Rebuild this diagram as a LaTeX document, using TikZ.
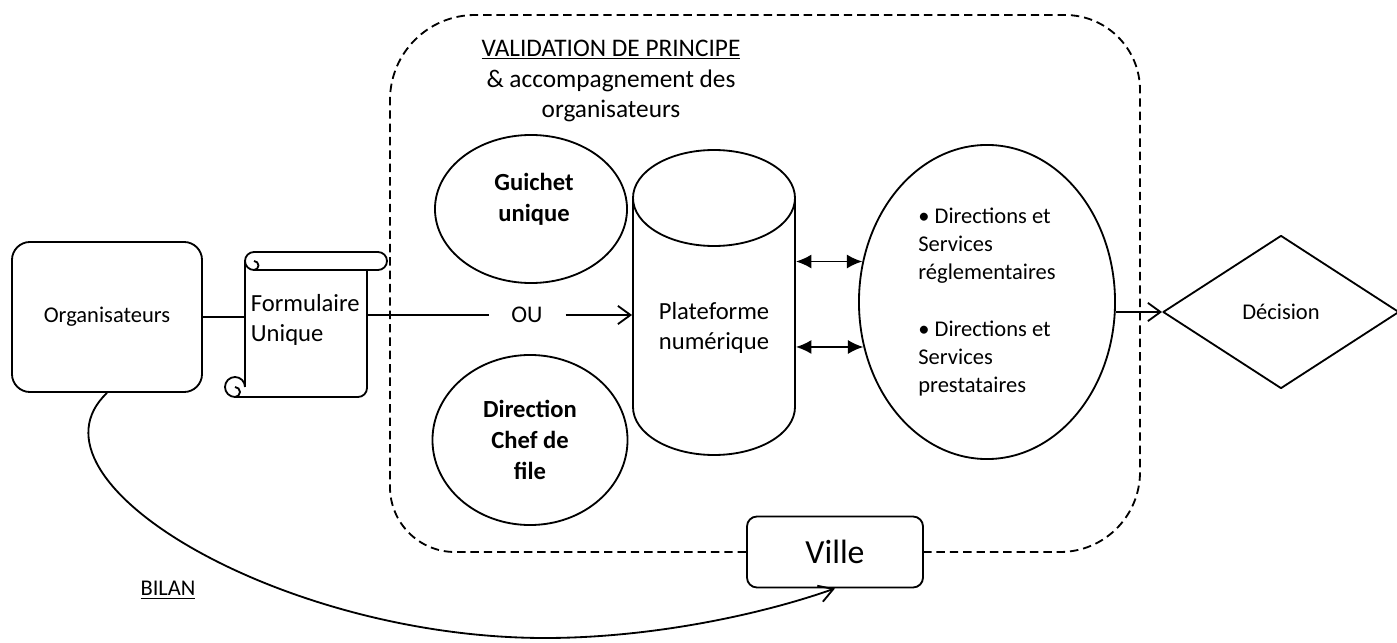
\documentclass[tikz,border=0pt]{standalone}
\usepackage{fontspec}
\setmainfont{Carlito}
\usetikzlibrary{arrows.meta,shapes.geometric,calc}
\newcommand{\fsz}[2]{\fontsize{#1}{#2}\selectfont}
\begin{document}
\begin{tikzpicture}[x=0.025cm,y=0.025cm, line width=1.3pt, line join=round,
  every node/.style={inner sep=0pt},
  box/.style={draw, rounded corners=0.45cm},
  ell/.style={draw, ellipse, inner sep=0pt},
  bold/.style={font=\bfseries\fsz{17.5}{22}},
  dsh/.style={dash pattern=on 6pt off 3.5pt},
  openarr/.style={-{Straight Barb[length=9pt,width=13pt]}},
  dbl/.style={{Latex[length=11pt,width=10pt]}-{Latex[length=11pt,width=10pt]}}]
\useasboundingbox (0,0) rectangle (1397,-643);

% dashed region
\node[box, rounded corners=0.25cm, minimum width=4.4cm, minimum height=1.775cm, font=\fsz{24}{28}, fill=white] (ville) at (835,-552) {Ville};
\draw[dsh] (ville.west) -- (455,-552) arc[start angle=270, end angle=180, radius=65] -- (390,-100) arc[start angle=180, end angle=90, radius=85] -- (1065,-15) arc[start angle=90, end angle=0, radius=75] -- (1140,-472) arc[start angle=0, end angle=-90, radius=80] -- (ville.east);

% title
\node[font=\fsz{18}{22}, align=center] (title) at (611,-81) {\underline{VALIDATION DE PRINCIPE}\\\& accompagnement des\\organisateurs};

% Organisateurs
\node[box, minimum width=4.75cm, minimum height=3.75cm, font=\fsz{16}{20}] (org) at (107,-317) {Organisateurs};

% scroll
\node[minimum width=3.05cm, minimum height=3.4cm] (form) at (306,-329) {};
\draw (254,-252) -- (378,-252) arc[start angle=90, end angle=-90, radius=9] -- (254,-270) arc[start angle=270, end angle=90, radius=9];
\draw (254,-270) arc[start angle=270, end angle=450, radius=4.5];
\draw (245,-261) -- (245,-387);
\draw (367,-270) -- (367,-388) arc[start angle=0, end angle=-90, radius=9] -- (235,-397);
\draw (235,-397) arc[start angle=270, end angle=0, radius=10];
\draw (235,-387) arc[start angle=90, end angle=-90, radius=5];
\node[font=\fsz{17.5}{21.3}, align=left, anchor=west] (formtxt) at (250,-320) {Formulaire\\Unique};

% OU
\node[font=\fsz{17}{20}, inner xsep=0.55cm] (ou) at (527,-315) {OU};

% ellipses left
\node[ell, minimum width=4.8cm, minimum height=3.7cm] (guichet) at (531,-209) {};
\node[bold, align=center] (guichettxt) at (534,-199) {Guichet\\unique};
\node[ell, minimum width=4.875cm, minimum height=4.25cm, bold, align=center] (direction) at (530,-440) {Direction\\Chef de\\file};

% cylinder
\node[minimum width=4.05cm, minimum height=7.625cm] (plat) at (714,-302.5) {};
\draw (633,-198) -- (633,-407) arc[start angle=180, end angle=360, x radius=81, y radius=48] -- (795,-198);
\draw (714,-198) ellipse[x radius=81, y radius=48];
\node[font=\fsz{17.5}{21.3}, align=center] (plattxt) at (714,-328) {Plateforme\\numérique};

% big ellipse
\node[ell, minimum width=6.4cm, minimum height=7.85cm, font=\fsz{16}{20}, align=left] (dirs) at (987,-302) {• Directions et\\Services\\réglementaires\\[20pt]• Directions et\\Services\\prestataires};

% decision
\node[draw, diamond, minimum width=5.9cm, minimum height=3.825cm, font=\fsz{16}{20}] (dec) at (1281,-312) {Décision};

% BILAN
\node[font=\fsz{16}{20}] (bilan) at (168,-590) {\underline{BILAN}};

% connectors
\draw (org.east) -- (org.east -| form.west);
\draw (form.east |- ou.west) -- (ou.west);
\draw[openarr] (ou.east) -- (ou.east -| plat.west);
\draw[dbl] (dirs.162 -| plat.east) -- (dirs.162);
\draw[dbl] (dirs.200 -| plat.east) -- (dirs.200);
\draw[openarr] (dirs.east |- dec.west) -- (dec.west);
\draw[-{Straight Barb[length=10pt,width=12pt]}] (org.south) .. controls (15,-480) and (280,-638) .. (545,-638) .. controls (650,-638) and (760,-615) .. (ville.south);
\end{tikzpicture}
\end{document}
